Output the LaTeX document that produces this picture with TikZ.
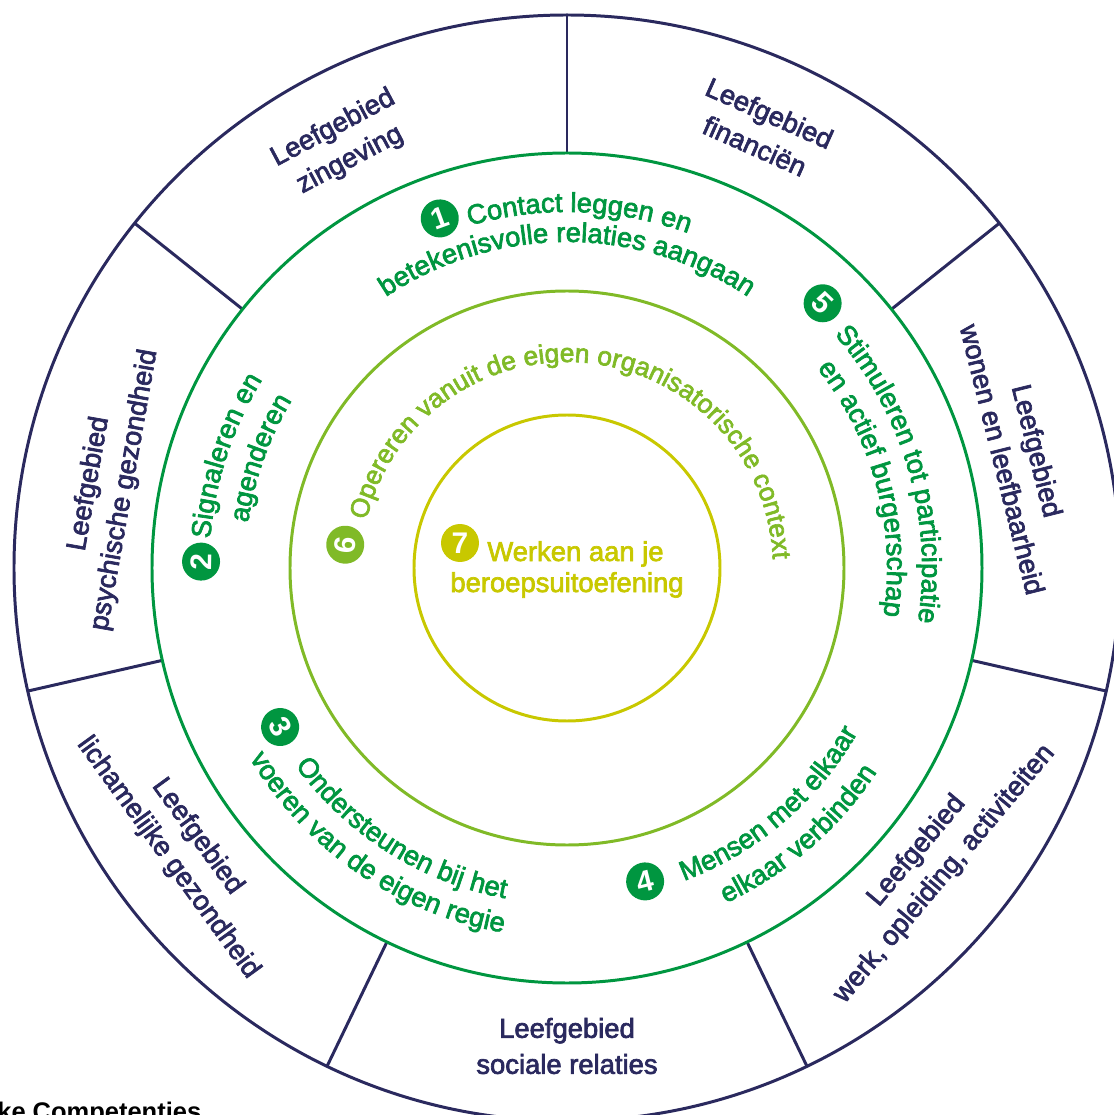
\documentclass[tikz,border=0pt]{standalone}
\usepackage{fontspec}
\setmainfont{Liberation Sans}
\newfontfamily\wheelfont{Liberation Sans}[FakeBold=2.5]
\usetikzlibrary{decorations.text}
\definecolor{navy}{RGB}{42,41,94}
\definecolor{cgreen}{RGB}{0,150,64}
\definecolor{lgreen}{RGB}{128,186,39}
\definecolor{cyellow}{RGB}{200,200,0}
\newcommand\ringfont{\wheelfont\fontsize{15.6}{18}\selectfont}
\newcommand\smallringfont{\wheelfont\fontsize{15}{18}\selectfont}
\tikzset{
    wheel/.style={line width=1.7pt},
    leef/.style={text=navy, align=center, inner sep=0pt, font=\wheelfont\fontsize{15.6}{20.5}\selectfont},
    badge/.style={circle, fill=#1, text=white, minimum size=0.76cm, inner sep=0pt, font=\bfseries\fontsize{17}{17}\selectfont},
    ringtext/.style 2 args={
        decorate, decoration={text along path, text align=center, text color=#1, text={|\ringfont|#2}}
    },
}

\begin{document}
\begin{tikzpicture}[x=0.02cm, y=0.02cm]
\useasboundingbox (-567,-547) rectangle (547,568);
\clip (-567,-547) rectangle (547,568);
\draw[wheel, navy] (0,0) circle[radius=553];
\foreach \a in {0,...,6} {
    \draw[wheel, navy] (90-\a*360/7:415) -- (90-\a*360/7:553);
}
\draw[wheel, cgreen] (0,0) circle[radius=415];
\draw[wheel, lgreen] (0,0) circle[radius=277];
\draw[wheel, cyellow] (0,0) circle[radius=153];

\node[leef, rotate=-24] (fin) at (66:480) {Leefgebied\\financiën};
\node[leef, rotate=-76] (won) at (14:467) {Leefgebied\\wonen en leefbaarheid};
\node[leef, rotate=50] (werk) at (-39:468) {Leefgebied\\werk, opleiding, activiteiten};
\node[leef] (soc) at (-90:478) {Leefgebied\\sociale relaties};
\node[leef, rotate=-54] (lich) at (216:475) {Leefgebied\\lichamelijke gezondheid};
\node[leef, rotate=80] (psy) at (170:467) {Leefgebied\\psychische gezondheid};
\node[leef, rotate=28] (zin) at (118:480) {Leefgebied\\zingeving};

\node[badge=cgreen, rotate=20] (b1) at (110:372) {1};
\path[ringtext={cgreen}{Contact leggen en}] (148:356) arc[start angle=148, end angle=28, radius=356];
\path[ringtext={cgreen}{betekenisvolle relaties aangaan}] (160:326) arc[start angle=160, end angle=20, radius=326];

\node[badge=cgreen, rotate=89] (b2) at (179:366) {2};
\path[ringtext={cgreen}{Signaleren en}] (221.8:358) arc[start angle=221.8, end angle=101.8, radius=358];
\path[ringtext={cgreen}{agenderen}] (220.3:322) arc[start angle=220.3, end angle=100.3, radius=322];

\node[badge=cgreen, rotate=-61] (b3) at (209:328) {3};
\path[ringtext={cgreen}{Ondersteunen bij het}] (177.7:336) arc[start angle=177.7, end angle=297.7, radius=336];
\path[ringtext={cgreen}{voeren van de eigen regie}] (175.5:370) arc[start angle=175.5, end angle=295.5, radius=370];

\node[badge=cgreen, rotate=14] (b4) at (284:323) {4};
\path[ringtext={cgreen}{Mensen met elkaar}] (250.5:334) arc[start angle=250.5, end angle=370.5, radius=334];
\path[ringtext={cgreen}{elkaar verbinden}] (251:371) arc[start angle=251, end angle=371, radius=371];

\node[badge=cgreen, rotate=-44] (b5) at (46:368) {5};
\path[ringtext={cgreen}{Stimuleren tot participatie}] (76.2:355) arc[start angle=76.2, end angle=-43.8, radius=355];
\path[ringtext={cgreen}{en actief burgerschap}] (75:320) arc[start angle=75, end angle=-45, radius=320];

\node[badge=lgreen, rotate=84] (b6) at (174:223) {6};
\path[decorate, decoration={text along path, text align=center, text color=lgreen,
    text={|\smallringfont|Opereren vanuit de eigen organisatorische context}}]
    (179.5:206) arc[start angle=179.5, end angle=-10.5, radius=206];

\node[badge=cyellow] (b7) at (-107,25) {7};
\node[text=cyellow, anchor=base, inner sep=0pt, font=\ringfont] (t7a) at (8.5,7) {Werken aan je};
\node[text=cyellow, anchor=base, inner sep=0pt, font=\ringfont] (t7b) at (0,-24) {beroepsuitoefening};

\node[anchor=north west, inner sep=0pt, font=\bfseries\fontsize{14.5}{14.5}\selectfont] (kc) at (-570,-534) {ke Competenties};
\end{tikzpicture}
\end{document}
